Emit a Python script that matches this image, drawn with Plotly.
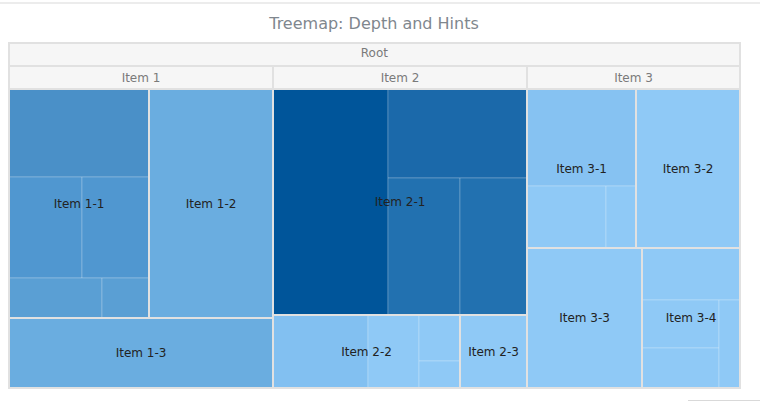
import plotly.graph_objects as go

# ---------------- data ----------------
title_text = "Treemap: Depth and Hints"
root_label = "Root"
items = ["Item 1", "Item 2", "Item 3"]

sub_labels = ["Item 1-1", "Item 1-2", "Item 1-3",
              "Item 2-1", "Item 2-2", "Item 2-3",
              "Item 3-1", "Item 3-2", "Item 3-3", "Item 3-4"]
sub_parents = ["Item 1", "Item 1", "Item 1",
               "Item 2", "Item 2", "Item 2",
               "Item 3", "Item 3", "Item 3", "Item 3"]
# own values of the second-level items (0 where the value comes from hints)
sub_values = [0, 28396, 18480, 0, 0, 4891, 0, 16536, 16100, 0]
sub_colors = ["#4a90c8", "#6aade0", "#6aade0",
              "#1b69aa", "#8fc9f6", "#8fc9f6",
              "#86c2f2", "#8fc9f6", "#8fc9f6", "#8fc9f6"]

# third level ("hints": drawn without labels)
hint_parents = ["Item 1-1"] * 5 + ["Item 2-1"] * 4 + ["Item 2-2"] * 4 + ["Item 3-1"] * 3 + ["Item 3-4"] * 4
hint_values = [12320, 7373, 6767, 3720, 1880,
               25990, 12371, 9864, 9179,
               6935, 3723, 1886, 1107,
               10573, 4898, 1860,
               5096, 3696, 3080, 1848]
hint_colors = ["#4a90c8", "#5097d0", "#5097d0", "#5a9fd4", "#5a9fd4",
               "#00559a", "#1b69aa", "#2271b0", "#2271b0",
               "#82c0f1", "#8fc9f6", "#8fc9f6", "#8fc9f6",
               "#86c2f2", "#8fc9f6", "#8fc9f6",
               "#8fc9f6", "#8fc9f6", "#8fc9f6", "#8fc9f6"]

# ---------------- styles ----------------
W, H = 760, 403
header_bg = "#f6f6f6"
border = "#e1e1e1"
font_family = "DejaVu Sans"

x_dom = [9 / W, 740 / W]
cells_dom = [1 - 388 / H, 1 - 89 / H]
head_dom = [1 - 89 / H, 1 - 43 / H]

# ---------------- hierarchy ----------------
counters = {}
hint_ids = []
for p in hint_parents:
    counters[p] = counters.get(p, 0) + 1
    hint_ids.append(f"{p}/{counters[p]}")

ids = [root_label] + items + sub_labels + hint_ids
parents = [""] + [root_label] * len(items) + sub_parents + hint_parents
values = [0] * (1 + len(items)) + sub_values + hint_values

n_top = 1 + len(items)
n_sub = len(sub_labels)
n_hint = len(hint_ids)

# item totals for the header strip
item_totals = []
for it in items:
    tot = 0
    for s, sp, sv in zip(sub_labels, sub_parents, sub_values):
        if sp == it:
            tot += sv + sum(v for hp, v in zip(hint_parents, hint_values) if hp == s)
    item_totals.append(tot)

fig = go.Figure()

# 1) coloured cells including the hints
fig.add_trace(go.Treemap(
    ids=ids, labels=ids, parents=parents, values=values,
    branchvalues="remainder", sort=True, maxdepth=-1,
    textinfo="none", hoverinfo="skip",
    marker=dict(
        colors=[header_bg] * n_top + sub_colors + hint_colors,
        line=dict(color=["rgba(0,0,0,0)"] * (n_top + n_sub) + ["rgba(255,255,255,0.22)"] * n_hint,
                  width=[0] * (n_top + n_sub) + [1] * n_hint),
        pad=dict(t=0, l=0, r=0, b=0),
        depthfade=False,
    ),
    tiling=dict(pad=0, packing="squarify"),
    pathbar=dict(visible=False),
    domain=dict(x=x_dom, y=cells_dom),
))

# 2) labels and borders of the second level
fig.add_trace(go.Treemap(
    ids=ids, labels=ids, parents=parents, values=values,
    text=[""] * n_top + sub_labels + [""] * n_hint,
    branchvalues="remainder", sort=True, maxdepth=3,
    textinfo="text", textposition="middle center", hoverinfo="skip",
    textfont=dict(family=font_family, size=12, color="#222222"),
    insidetextfont=dict(family=font_family, size=12, color="#222222"),
    marker=dict(
        colors=["rgba(0,0,0,0)"] * len(ids),
        line=dict(color=border, width=2),
        pad=dict(t=0, l=0, r=0, b=0),
        depthfade=False,
    ),
    tiling=dict(pad=0, packing="squarify"),
    pathbar=dict(visible=False),
    domain=dict(x=x_dom, y=cells_dom),
))

# 3) header strip: Root + first level
fig.add_trace(go.Treemap(
    ids=[root_label] + items, labels=[root_label] + items,
    parents=[""] + [root_label] * len(items),
    values=[0] + item_totals,
    text=[root_label] + items,
    branchvalues="remainder", sort=True,
    textinfo="text", textposition="middle center", hoverinfo="skip",
    textfont=dict(family=font_family, size=12, color="#7a7a7a"),
    insidetextfont=dict(family=font_family, size=12, color="#7a7a7a"),
    marker=dict(
        colors=[header_bg] * (1 + len(items)),
        line=dict(color=border, width=2),
        pad=dict(t=23, l=0, r=0, b=0),
        depthfade=False,
    ),
    tiling=dict(pad=0, packing="squarify"),
    pathbar=dict(visible=False),
    domain=dict(x=x_dom, y=head_dom),
))

fig.update_layout(
    width=W, height=H,
    margin=dict(l=0, r=0, t=0, b=0),
    paper_bgcolor="white",
    title=dict(text=title_text, x=374 / W, xanchor="center", y=1 - 23 / H, yanchor="middle",
               font=dict(family=font_family, size=16, color="#7f878e")),
    shapes=[
        dict(type="line", xref="paper", yref="paper", x0=0, x1=1, y0=1 - 3 / H, y1=1 - 3 / H,
             line=dict(color="#d9d9d9", width=1)),
        dict(type="line", xref="paper", yref="paper", x0=688 / W, x1=1, y0=1 - 400.5 / H, y1=1 - 400.5 / H,
             line=dict(color="#d9d9d9", width=1)),
    ],
)

fig.write_html("out.html")
